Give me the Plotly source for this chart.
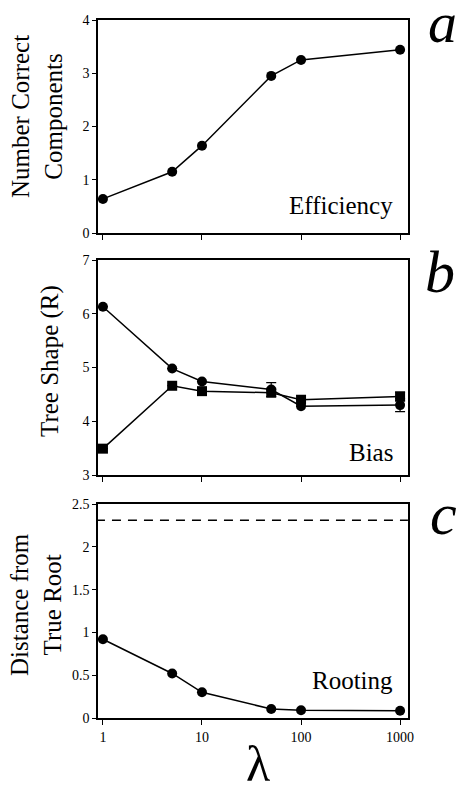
import plotly.graph_objects as go

lam = [1, 5, 10, 50, 100, 1000]
efficiency = [0.64, 1.15, 1.64, 2.95, 3.25, 3.44]
bias_circle = [6.13, 4.98, 4.74, 4.59, 4.28, 4.30]
bias_circle_err = [0, 0, 0, 0.13, 0, 0.12]
bias_square = [3.49, 4.66, 4.56, 4.53, 4.40, 4.46]
bias_square_err = [0, 0, 0, 0, 0, 0.08]
rooting = [0.92, 0.52, 0.30, 0.105, 0.09, 0.085]
random_root = 2.31
x_ticks = [1, 10, 100, 1000]

FONT = "'Liberation Serif', 'DejaVu Serif', 'Times New Roman', Times, serif"
W, H = 457, 792

fig = go.Figure()

line = dict(color="black", width=1.5)
fig.add_trace(go.Scatter(x=lam, y=efficiency, mode="lines+markers", line=line,
                         marker=dict(symbol="circle", size=10, color="black"),
                         xaxis="x", yaxis="y"))
fig.add_trace(go.Scatter(x=lam, y=bias_square, mode="lines+markers", line=line,
                         marker=dict(symbol="square", size=10, color="black"),
                         error_y=dict(type="data", array=bias_square_err, color="black", thickness=1.2, width=5),
                         xaxis="x2", yaxis="y2"))
fig.add_trace(go.Scatter(x=lam, y=bias_circle, mode="lines+markers", line=line,
                         marker=dict(symbol="circle", size=10, color="black"),
                         error_y=dict(type="data", array=bias_circle_err, color="black", thickness=1.2, width=5),
                         xaxis="x2", yaxis="y2"))
fig.add_trace(go.Scatter(x=lam, y=rooting, mode="lines+markers", line=line,
                         marker=dict(symbol="circle", size=10, color="black"),
                         xaxis="x3", yaxis="y3"))
fig.add_trace(go.Scatter(x=[0.85, 1200], y=[random_root, random_root], mode="lines",
                         line=dict(color="black", width=1.3, dash="9px,7px"),
                         xaxis="x3", yaxis="y3"))

xdom = [98 / W, 408 / W]
def ydom(top, bot):
    return [1 - bot / H, 1 - top / H]

xrange_log = [-0.05, 3.08]
common_x = dict(type="log", range=xrange_log, domain=xdom, showline=True, linecolor="black",
                linewidth=1.5, mirror=True, ticks="outside", ticklen=5, tickwidth=1.3,
                tickcolor="black", tickvals=x_ticks, showgrid=False, zeroline=False,
                tickfont=dict(family=FONT, size=14, color="black"))
common_y = dict(showline=True, linecolor="black", linewidth=1.5, mirror=True,
                ticks="outside", ticklen=4, tickwidth=1.3, tickcolor="black",
                showgrid=False, zeroline=False,
                tickfont=dict(family=FONT, size=14, color="black"))

fig.update_layout(
    width=W, height=H, margin=dict(l=0, r=0, t=0, b=0, autoexpand=False),
    paper_bgcolor="white", plot_bgcolor="white", showlegend=False,
    font=dict(family=FONT, color="black"),
    xaxis=dict(common_x, anchor="y", showticklabels=False),
    xaxis2=dict(common_x, anchor="y2", showticklabels=False),
    xaxis3=dict(common_x, anchor="y3", ticktext=["1", "10", "100", "1000"]),
    yaxis=dict(common_y, anchor="x", domain=ydom(20, 233), range=[0, 4], tickvals=[0, 1, 2, 3, 4]),
    yaxis2=dict(common_y, anchor="x2", domain=ydom(260, 475), range=[3, 7], tickvals=[3, 4, 5, 6, 7]),
    yaxis3=dict(common_y, anchor="x3", domain=ydom(504, 718), range=[0, 2.5],
                tickvals=[0, 0.5, 1, 1.5, 2, 2.5]),
)

def ann(text, x, y, size, xanchor="center", **kw):
    fig.add_annotation(text=text, x=x / W, y=1 - y / H, xref="paper", yref="paper",
                       xanchor=xanchor, yanchor="middle",
                       showarrow=False, font=dict(family=FONT, size=size, color="black"), **kw)

ann("Number Correct<br>Components", 37, 117, 25, textangle=-90)
ann("Tree Shape (R)", 50, 361, 25, textangle=-90)
ann("Distance from<br>True Root", 36, 605, 25, textangle=-90)

ann("Efficiency", 395, 205, 25, xanchor="right")
ann("Bias", 395, 452, 25, xanchor="right")
ann("Rooting", 395, 680, 25, xanchor="right")

ann("<i>a</i>", 442, 22, 58)
ann("<i>b</i>", 440, 272, 60)
ann("<i>c</i>", 443, 514, 60)

ann("λ", 258, 764, 50)

fig.write_html("out.html", config={"displayModeBar": False},
               post_script="document.body.style.margin='0';")
